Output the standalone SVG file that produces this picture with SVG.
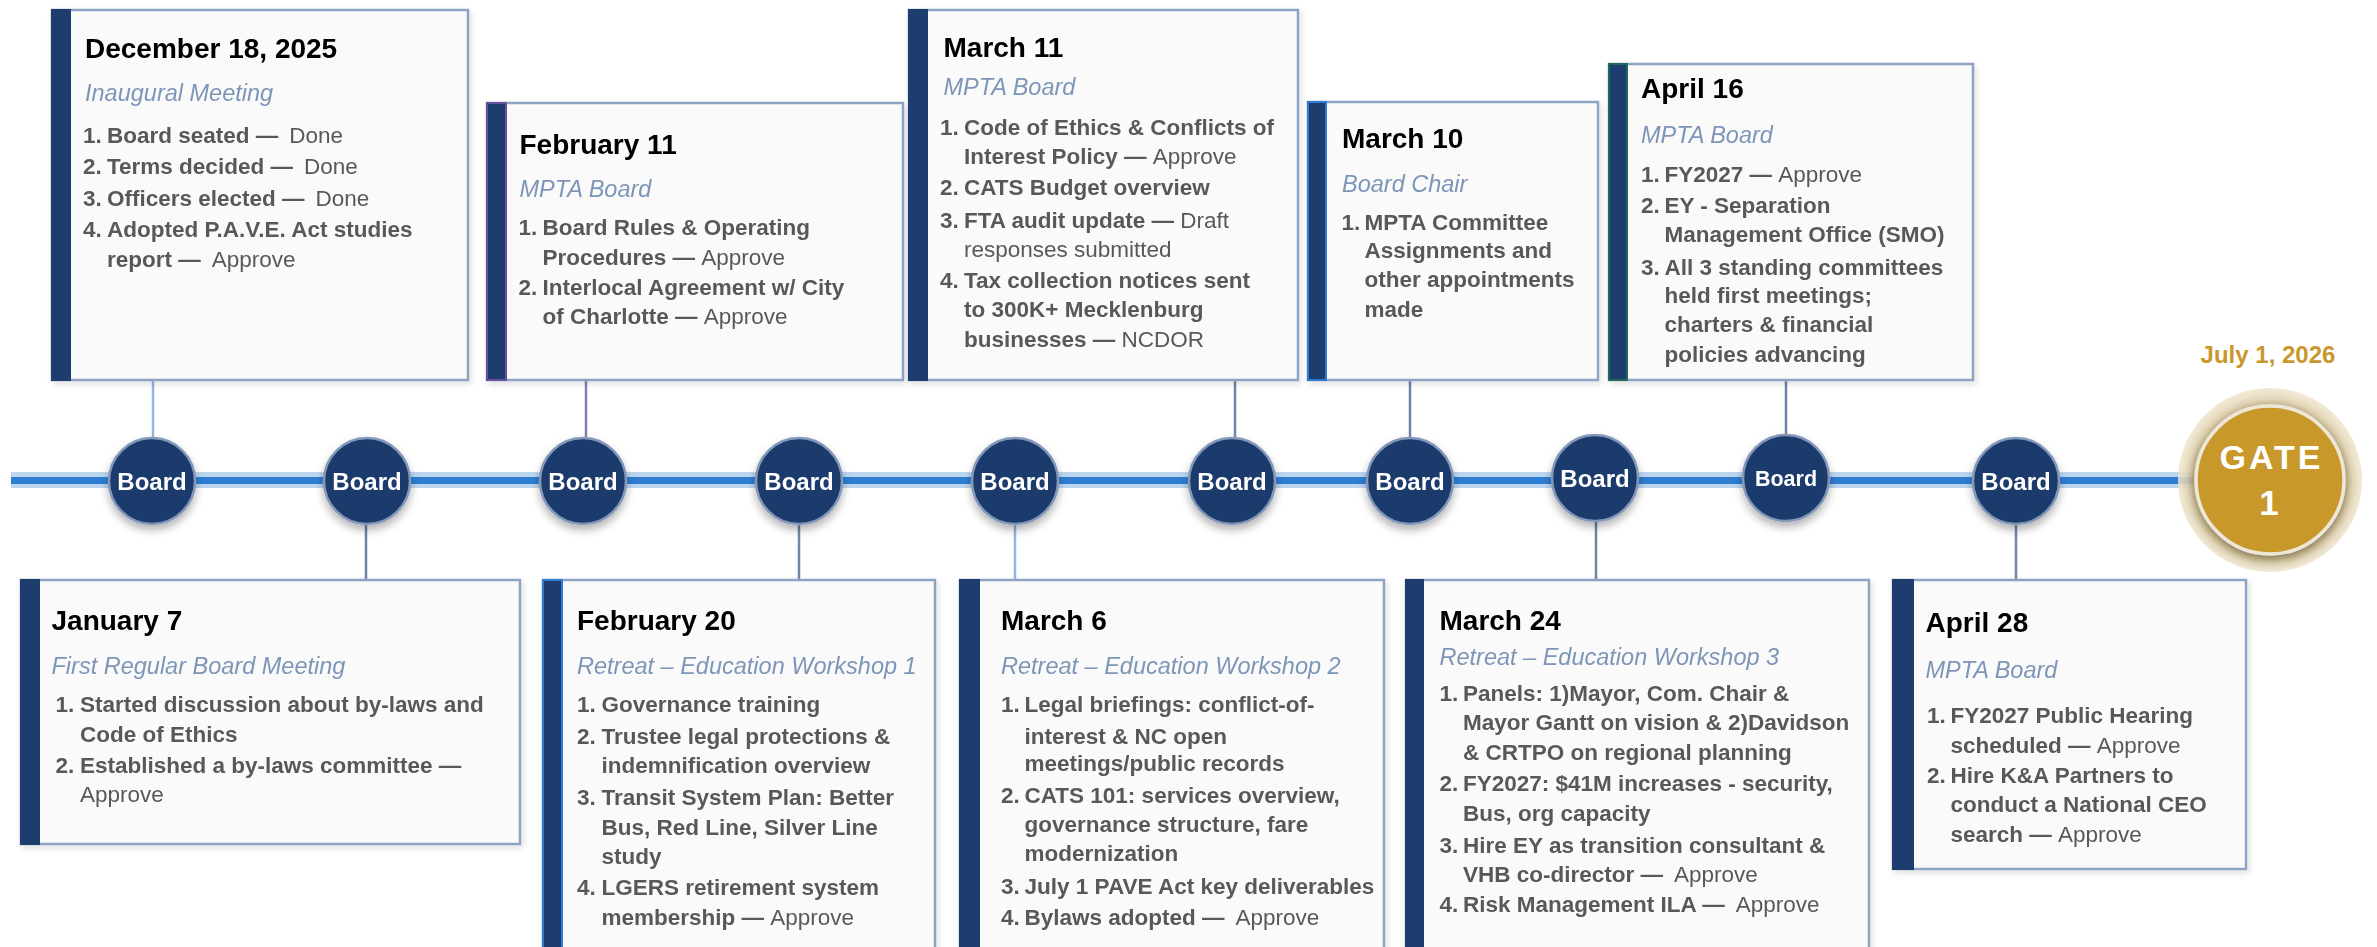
<svg xmlns="http://www.w3.org/2000/svg" width="2377" height="947" viewBox="0 0 2377 947">
<defs>
<style>
text{font-family:"Liberation Sans",Arial,sans-serif}
.box{fill:#fafafa;stroke:#8fa3c3;stroke-width:2.5}
.bar{fill:#1f3c6e;stroke:#1f3c6e;stroke-width:2}
.t{font-size:28px;font-weight:bold;fill:#000}
.s{font-size:23.5px;font-style:italic;fill:#7d95b7}
.i{font-size:22.5px;fill:#595959}
.b{font-weight:bold}
.lbl{font-size:24px;font-weight:bold;fill:#fff;text-anchor:middle}
.dot{fill:#1e3a6d;stroke:#8397b9;stroke-width:2.5}
.c{stroke:#6f86a8;stroke-width:2.5;fill:none}
.cl{stroke:#8fb6e3}
.cp{stroke:#8b7bb5}
</style>
<filter id="sh" x="-10%" y="-10%" width="130%" height="130%">
<feDropShadow dx="2" dy="3" stdDeviation="3" flood-color="#000" flood-opacity="0.12"/>
</filter>
<filter id="csh" x="-40%" y="-40%" width="180%" height="190%">
<feDropShadow dx="0" dy="5" stdDeviation="4" flood-color="#000" flood-opacity="0.3"/>
</filter>
<filter id="gsh" x="-40%" y="-40%" width="180%" height="180%">
<feDropShadow dx="0" dy="3" stdDeviation="6" flood-color="#4a3a18" flood-opacity="0.75"/>
</filter>
<radialGradient id="glow" cx="0.5" cy="0.5" r="0.5">
<stop offset="0.75" stop-color="#d9c79a" stop-opacity="0.85"/>
<stop offset="1" stop-color="#efe5cc" stop-opacity="0.85"/>
</radialGradient>
</defs>

<g id="timeline">
<rect x="11" y="472" width="2200" height="16" fill="#bcd6f0"/>
<rect x="11" y="477" width="2200" height="7" fill="#2f7dd2"/>
</g>

<g id="connectors">
<line class="c cl" x1="153" y1="380" x2="153" y2="440"/>
<line class="c cp" x1="586" y1="380" x2="586" y2="440"/>
<line class="c" x1="1235" y1="380" x2="1235" y2="440"/>
<line class="c" x1="1410" y1="380" x2="1410" y2="440"/>
<line class="c" x1="1786" y1="380" x2="1786" y2="437"/>
<line class="c" x1="366" y1="522" x2="366" y2="580"/>
<line class="c" x1="799" y1="522" x2="799" y2="580"/>
<line class="c cl" x1="1015" y1="522" x2="1015" y2="580"/>
<line class="c" x1="1596" y1="519" x2="1596" y2="580"/>
<line class="c" x1="2016" y1="522" x2="2016" y2="580"/>
</g>

<g id="board-1" filter="url(#csh)"><circle class="dot" cx="152" cy="481" r="43"/><text class="lbl" x="152" y="490">Board</text></g>
<g id="board-2" filter="url(#csh)"><circle class="dot" cx="367" cy="481" r="43"/><text class="lbl" x="367" y="490">Board</text></g>
<g id="board-3" filter="url(#csh)"><circle class="dot" cx="583" cy="481" r="43"/><text class="lbl" x="583" y="490">Board</text></g>
<g id="board-4" filter="url(#csh)"><circle class="dot" cx="799" cy="481" r="43"/><text class="lbl" x="799" y="490">Board</text></g>
<g id="board-5" filter="url(#csh)"><circle class="dot" cx="1015" cy="481" r="43"/><text class="lbl" x="1015" y="490">Board</text></g>
<g id="board-6" filter="url(#csh)"><circle class="dot" cx="1232" cy="481" r="43"/><text class="lbl" x="1232" y="490">Board</text></g>
<g id="board-7" filter="url(#csh)"><circle class="dot" cx="1410" cy="481" r="43"/><text class="lbl" x="1410" y="490">Board</text></g>
<g id="board-8" filter="url(#csh)"><circle class="dot" cx="1595" cy="478" r="43"/><text class="lbl" x="1595" y="487">Board</text></g>
<g id="board-9" filter="url(#csh)"><circle class="dot" cx="1786" cy="478" r="43"/><text class="lbl" x="1786" y="486" style="font-size:21.5px">Board</text></g>
<g id="board-10" filter="url(#csh)"><circle class="dot" cx="2016" cy="481" r="43"/><text class="lbl" x="2016" y="490">Board</text></g>

<g id="gate-1">
<circle cx="2270" cy="480" r="92" fill="url(#glow)"/>
<circle cx="2270" cy="480" r="74" fill="#c8982b" stroke="#eee7d8" stroke-width="3.5" filter="url(#gsh)"/>
<text x="2271.5" y="469" style="font-size:34px;font-weight:bold;fill:#fff;text-anchor:middle;letter-spacing:3px">GATE</text>
<text x="2269" y="515" style="font-size:35px;font-weight:bold;fill:#fff;text-anchor:middle">1</text>
<text x="2268" y="363" style="font-size:24px;font-weight:bold;fill:#c9982c;text-anchor:middle">July 1, 2026</text>
</g>

<g id="dec-18" filter="url(#sh)">
<rect class="box" x="52" y="10" width="416" height="370"/>
<rect class="bar" x="52" y="10" width="18" height="370"/>
<text class="t" x="85" y="58">December 18, 2025</text>
<text class="s" x="85" y="100.5">Inaugural Meeting</text>
<g class="i">
<text class="b" x="83" y="143">1.</text><text x="107" y="143"><tspan class="b">Board seated —</tspan><tspan dx="11">Done</tspan></text>
<text class="b" x="83" y="174">2.</text><text x="107" y="174"><tspan class="b">Terms decided —</tspan><tspan dx="11">Done</tspan></text>
<text class="b" x="83" y="205.5">3.</text><text x="107" y="205.5"><tspan class="b">Officers elected —</tspan><tspan dx="11">Done</tspan></text>
<text class="b" x="83" y="237">4.</text><text class="b" x="107" y="237">Adopted P.A.V.E. Act studies</text>
<text x="107" y="267"><tspan class="b">report —</tspan><tspan dx="11">Approve</tspan></text>
</g>
</g>

<g id="feb-11" filter="url(#sh)">
<rect class="box" x="487" y="103" width="416" height="277"/>
<rect class="bar" x="487" y="103" width="19" height="277" style="stroke:#6b4f9e"/>
<text class="t" x="519.5" y="154">February 11</text>
<text class="s" x="519.5" y="197">MPTA Board</text>
<g class="i">
<text class="b" x="518.5" y="235">1.</text><text class="b" x="542.5" y="235">Board Rules &amp; Operating</text>
<text x="542.5" y="264.5"><tspan class="b">Procedures — </tspan><tspan>Approve</tspan></text>
<text class="b" x="518.5" y="295">2.</text><text class="b" x="542.5" y="295">Interlocal Agreement w/ City</text>
<text x="542.5" y="324"><tspan class="b">of Charlotte — </tspan><tspan>Approve</tspan></text>
</g>
</g>

<g id="mar-11" filter="url(#sh)">
<rect class="box" x="909" y="10" width="389" height="370"/>
<rect class="bar" x="909" y="10" width="18" height="370"/>
<text class="t" x="943.5" y="57">March 11</text>
<text class="s" x="943.5" y="95">MPTA Board</text>
<g class="i">
<text class="b" x="940" y="135">1.</text><text class="b" x="964" y="135">Code of Ethics &amp; Conflicts of</text>
<text x="964" y="164"><tspan class="b">Interest Policy — </tspan><tspan>Approve</tspan></text>
<text class="b" x="940" y="195">2.</text><text class="b" x="964" y="195">CATS Budget overview</text>
<text class="b" x="940" y="227.5">3.</text><text x="964" y="227.5"><tspan class="b">FTA audit update — </tspan><tspan>Draft</tspan></text>
<text x="964" y="256.5">responses submitted</text>
<text class="b" x="940" y="287.5">4.</text><text class="b" x="964" y="287.5">Tax collection notices sent</text>
<text class="b" x="964" y="316.5">to 300K+ Mecklenburg</text>
<text x="964" y="346.5"><tspan class="b">businesses — </tspan><tspan>NCDOR</tspan></text>
</g>
</g>

<g id="mar-10" filter="url(#sh)">
<rect class="box" x="1308" y="102" width="290" height="278"/>
<rect class="bar" x="1308" y="102" width="18" height="278" style="stroke:#2e7bd1"/>
<text class="t" x="1342" y="148">March 10</text>
<text class="s" x="1342" y="191.5">Board Chair</text>
<g class="i b">
<text x="1341.5" y="230">1.</text><text x="1364.5" y="230">MPTA Committee</text>
<text x="1364.5" y="258">Assignments and</text>
<text x="1364.5" y="287">other appointments</text>
<text x="1364.5" y="316.5">made</text>
</g>
</g>

<g id="apr-16" filter="url(#sh)">
<rect class="box" x="1609" y="64" width="364" height="316"/>
<rect class="bar" x="1609" y="64" width="18" height="316" style="stroke:#1f6b5c"/>
<text class="t" x="1641" y="98">April 16</text>
<text class="s" x="1641" y="143">MPTA Board</text>
<g class="i">
<text class="b" x="1641" y="181.5">1.</text><text x="1664.5" y="181.5"><tspan class="b">FY2027 — </tspan><tspan>Approve</tspan></text>
<text class="b" x="1641" y="213">2.</text><text class="b" x="1664.5" y="213">EY - Separation</text>
<text class="b" x="1664.5" y="242">Management Office (SMO)</text>
<text class="b" x="1641" y="275">3.</text><text class="b" x="1664.5" y="275">All 3 standing committees</text>
<text class="b" x="1664.5" y="303">held first meetings;</text>
<text class="b" x="1664.5" y="332">charters &amp; financial</text>
<text class="b" x="1664.5" y="361.5">policies advancing</text>
</g>
</g>

<g id="jan-7" filter="url(#sh)">
<rect class="box" x="21" y="580" width="499" height="264"/>
<rect class="bar" x="21" y="580" width="18" height="264"/>
<text class="t" x="51.5" y="630">January 7</text>
<text class="s" x="51.5" y="674">First Regular Board Meeting</text>
<g class="i">
<text class="b" x="55.5" y="712">1.</text><text class="b" x="80" y="712">Started discussion about by-laws and</text>
<text class="b" x="80" y="742">Code of Ethics</text>
<text class="b" x="55.5" y="772.5">2.</text><text class="b" x="80" y="772.5">Established a by-laws committee —</text>
<text x="80" y="802">Approve</text>
</g>
</g>

<g id="feb-20" filter="url(#sh)">
<rect class="box" x="543" y="580" width="392" height="380"/>
<rect class="bar" x="543" y="580" width="19" height="380" style="stroke:#2e7bd1"/>
<text class="t" x="577" y="630">February 20</text>
<text class="s" x="577" y="674">Retreat – Education Workshop 1</text>
<g class="i">
<text class="b" x="577" y="711.5">1.</text><text class="b" x="601.5" y="711.5">Governance training</text>
<text class="b" x="577" y="743.5">2.</text><text class="b" x="601.5" y="743.5">Trustee legal protections &amp;</text>
<text class="b" x="601.5" y="772.5">indemnification overview</text>
<text class="b" x="577" y="804.5">3.</text><text class="b" x="601.5" y="804.5">Transit System Plan: Better</text>
<text class="b" x="601.5" y="834.5">Bus, Red Line, Silver Line</text>
<text class="b" x="601.5" y="864">study</text>
<text class="b" x="577" y="895">4.</text><text class="b" x="601.5" y="895">LGERS retirement system</text>
<text x="601.5" y="924.5"><tspan class="b">membership — </tspan><tspan>Approve</tspan></text>
</g>
</g>

<g id="mar-6" filter="url(#sh)">
<rect class="box" x="960" y="580" width="424" height="380"/>
<rect class="bar" x="960" y="580" width="19" height="380"/>
<text class="t" x="1001" y="630">March 6</text>
<text class="s" x="1001" y="674">Retreat – Education Workshop 2</text>
<g class="i">
<text class="b" x="1001" y="712">1.</text><text class="b" x="1024.5" y="712">Legal briefings: conflict-of-</text>
<text class="b" x="1024.5" y="743.5">interest &amp; NC open</text>
<text class="b" x="1024.5" y="770.5">meetings/public records</text>
<text class="b" x="1001" y="803">2.</text><text class="b" x="1024.5" y="803">CATS 101: services overview,</text>
<text class="b" x="1024.5" y="831.5">governance structure, fare</text>
<text class="b" x="1024.5" y="860.5">modernization</text>
<text class="b" x="1001" y="894">3.</text><text class="b" x="1024.5" y="894">July 1 PAVE Act key deliverables</text>
<text class="b" x="1001" y="924.5">4.</text><text x="1024.5" y="924.5"><tspan class="b">Bylaws adopted —</tspan><tspan dx="11">Approve</tspan></text>
</g>
</g>

<g id="mar-24" filter="url(#sh)">
<rect class="box" x="1406" y="580" width="463" height="380"/>
<rect class="bar" x="1406" y="580" width="17" height="380"/>
<text class="t" x="1439.5" y="630">March 24</text>
<text class="s" x="1439.5" y="665">Retreat – Education Workshop 3</text>
<g class="i">
<text class="b" x="1439.5" y="701">1.</text><text class="b" x="1463" y="701">Panels: 1)Mayor, Com. Chair &amp;</text>
<text class="b" x="1463" y="730">Mayor Gantt on vision &amp; 2)Davidson</text>
<text class="b" x="1463" y="759.5">&amp; CRTPO on regional planning</text>
<text class="b" x="1439.5" y="791">2.</text><text class="b" x="1463" y="791">FY2027: $41M increases - security,</text>
<text class="b" x="1463" y="820.5">Bus, org capacity</text>
<text class="b" x="1439.5" y="852.5">3.</text><text class="b" x="1463" y="852.5">Hire EY as transition consultant &amp;</text>
<text x="1463" y="881.5"><tspan class="b">VHB co-director —</tspan><tspan dx="11">Approve</tspan></text>
<text class="b" x="1439.5" y="912">4.</text><text x="1463" y="912"><tspan class="b">Risk Management ILA —</tspan><tspan dx="11">Approve</tspan></text>
</g>
</g>

<g id="apr-28" filter="url(#sh)">
<rect class="box" x="1893" y="580" width="353" height="289"/>
<rect class="bar" x="1893" y="580" width="20" height="289"/>
<text class="t" x="1925.5" y="632">April 28</text>
<text class="s" x="1925.5" y="677.5">MPTA Board</text>
<g class="i">
<text class="b" x="1927" y="723">1.</text><text class="b" x="1950.5" y="723">FY2027 Public Hearing</text>
<text x="1950.5" y="752.5"><tspan class="b">scheduled — </tspan><tspan>Approve</tspan></text>
<text class="b" x="1927" y="783">2.</text><text class="b" x="1950.5" y="783">Hire K&amp;A Partners to</text>
<text class="b" x="1950.5" y="812">conduct a National CEO</text>
<text x="1950.5" y="841.5"><tspan class="b">search — </tspan><tspan>Approve</tspan></text>
</g>
</g>
</svg>
